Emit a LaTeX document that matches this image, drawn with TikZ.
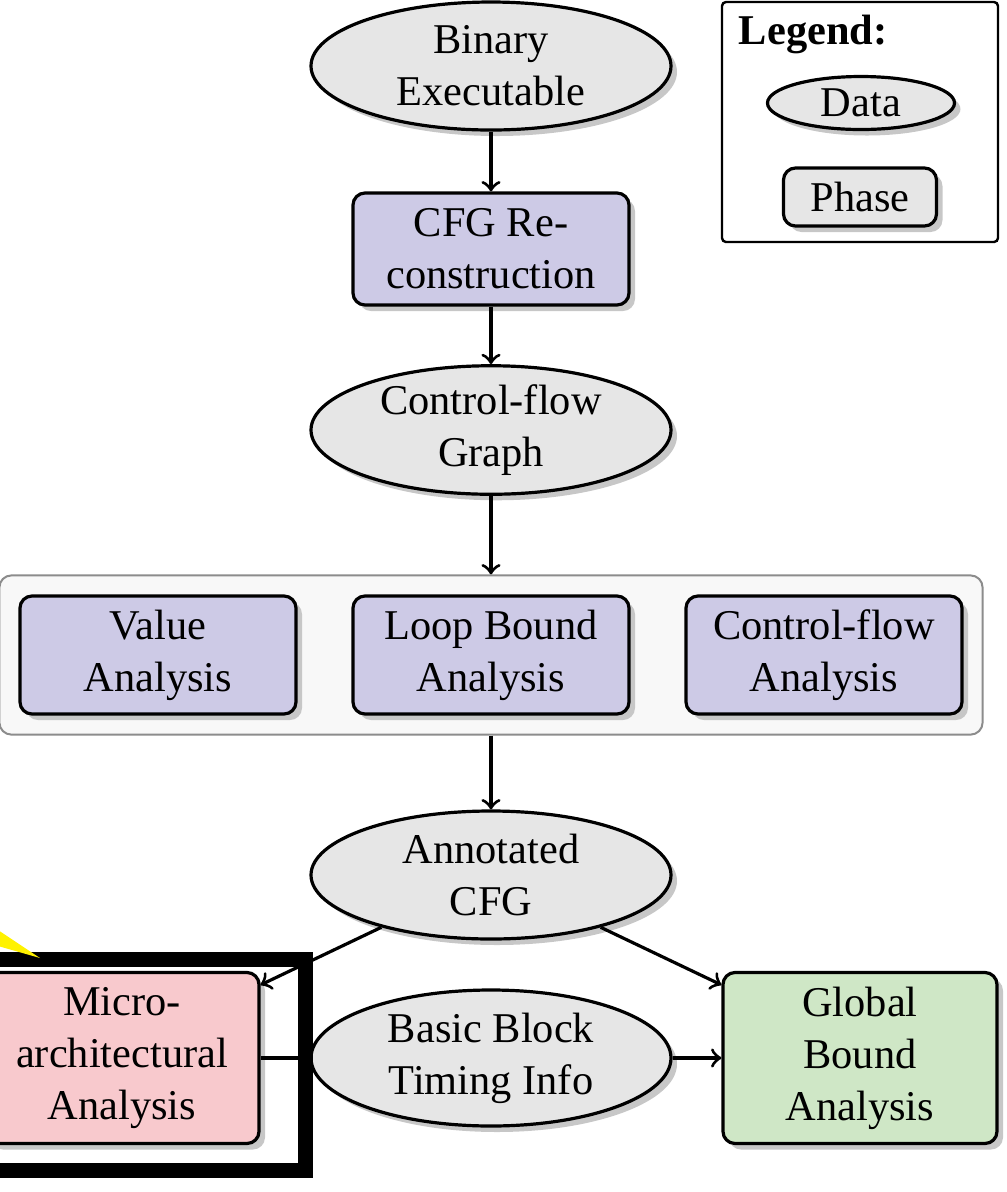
\documentclass[tikz,border=0pt]{standalone}
\usepackage{fontspec}
\setmainfont{Liberation Serif}
\usetikzlibrary{shapes.geometric,shadows,fit,backgrounds,arrows}

\definecolor{datagray}{HTML}{E6E6E6}
\definecolor{phaseblue}{HTML}{CDCAE6}
\definecolor{micropink}{HTML}{F8C9CD}
\definecolor{boundgreen}{HTML}{CFE7C6}
\definecolor{groupgray}{HTML}{F8F8F8}

\begin{document}
\begin{tikzpicture}[x=0.25pt,y=-0.25pt,->,>=to,line width=0.8pt,
  font=\fontsize{10.6}{13}\selectfont,
  shade box/.style={drop shadow={shadow xshift=1.5pt,shadow yshift=-1.5pt,fill=black!22,opacity=1}},
  data node/.style={ellipse,draw,fill=datagray,shade box,minimum width=90pt,minimum height=32pt,inner sep=0pt,align=center},
  phase node/.style={rectangle,rounded corners=3pt,draw,fill=phaseblue,shade box,minimum width=69pt,minimum height=28pt,align=center}]

  \useasboundingbox (0,0) rectangle (1007,1192);

  % main flow
  \node[data node] (bin) at (491,66) {Binary\\Executable};
  \node[phase node] (cfgrec) [below of=bin, node distance=45.75pt] {CFG Re-\\construction};
  \node[data node] (cfg) [below of=cfgrec, node distance=45.25pt] {Control-flow\\Graph};

  \node[phase node,minimum height=29.5pt] (loop) [below of=cfg, node distance=56.25pt] {Loop Bound\\Analysis};
  \node[phase node,minimum height=29.5pt] (val) [left of=loop, node distance=83.25pt] {Value\\Analysis};
  \node[phase node,minimum height=29.5pt] (cfa) [right of=loop, node distance=83.25pt] {Control-flow\\Analysis};
  \begin{scope}[on background layer]
    \node[draw=black!45,line width=0.5pt,fill=groupgray,rounded corners=3pt,inner sep=4.75pt,fit=(val)(loop)(cfa)] (group) {};
  \end{scope}

  \node[data node] (ann) [below of=loop, node distance=55pt] {Annotated\\CFG};
  \node[data node,minimum height=34pt] (bb) [below of=ann, node distance=45.75pt] {Basic Block\\Timing Info};
  \node[phase node,fill=micropink,minimum width=68.5pt,minimum height=42.75pt] (micro) [left of=bb, node distance=92.25pt] {Micro-\\architectural\\Analysis};
  \node[phase node,fill=boundgreen,minimum width=68.5pt,minimum height=42.75pt] (global) [right of=bb, node distance=92.25pt] {Global\\Bound\\Analysis};

  \path
    (bin) edge (cfgrec)
    (cfgrec) edge (cfg)
    (cfg) edge (group)
    (group) edge (ann)
    (ann) edge ([yshift=-3.5pt]micro.north east)
    (ann) edge ([yshift=-3.5pt]global.north west)
    (micro) edge (bb)
    (bb) edge (global);

  % legend
  \node[draw,-,line width=0.6pt,rounded corners=1pt,minimum width=69pt,minimum height=60pt] (legend) at (860,122) {};
  \node[anchor=west,font=\fontsize{10.6}{13}\selectfont\bfseries] (legtitle) at (724,34) {Legend:};
  \node[data node,minimum width=46.75pt,minimum height=13.25pt] (legdata) at (861,103) {Data};
  \node[phase node,fill=datagray,minimum width=38.25pt,minimum height=14.5pt] (legphase) at (860,197) {Phase};

  % highlight marks
  \draw[-,line width=3.75pt] (-40,959.5) rectangle (305.5,1170.5);
  \fill[yellow] (-2,930) -- (40,958) -- (-2,946) -- cycle;
\end{tikzpicture}
\end{document}
